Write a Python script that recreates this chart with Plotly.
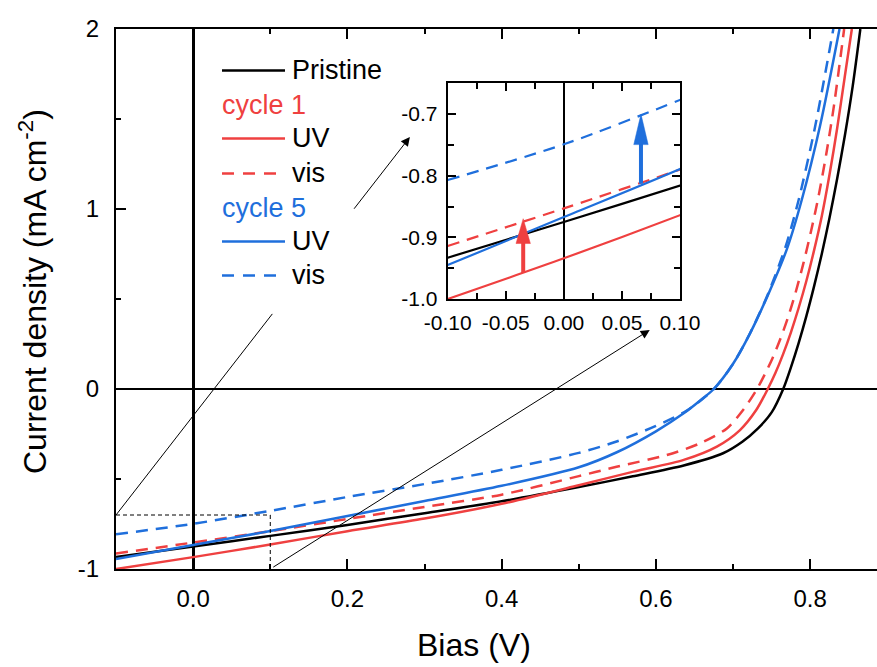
import plotly.graph_objects as go

# ---------------- data ----------------
bias_pristine = [-0.1, 0.0, 0.1, 0.2, 0.3, 0.4, 0.5, 0.57, 0.636, 0.687, 0.712, 0.732, 0.750, 0.765, 0.775, 0.785, 0.795, 0.805, 0.815, 0.825, 0.835, 0.845, 0.855, 0.865]
j_pristine = [-0.933, -0.875, -0.816, -0.755, -0.69, -0.624, -0.545, -0.485, -0.425, -0.357, -0.293, -0.22, -0.13, 0.0, 0.12, 0.255, 0.405, 0.57, 0.75, 0.95, 1.17, 1.41, 1.68, 2.0]

bias_c1_uv = [-0.1, 0.0, 0.1, 0.2, 0.3, 0.4, 0.5, 0.571, 0.636, 0.679, 0.709, 0.730, 0.745, 0.755, 0.765, 0.775, 0.785, 0.795, 0.805, 0.815, 0.825, 0.835, 0.845, 0.854]
j_c1_uv = [-1.0, -0.934, -0.864, -0.79, -0.72, -0.638, -0.535, -0.459, -0.394, -0.32, -0.228, -0.117, 0.0, 0.09, 0.195, 0.315, 0.45, 0.60, 0.77, 0.96, 1.19, 1.45, 1.74, 2.0]

bias_c1_vis = [-0.1, 0.0, 0.1, 0.2, 0.3, 0.4, 0.5, 0.549, 0.614, 0.657, 0.692, 0.713, 0.731, 0.741, 0.751, 0.761, 0.771, 0.781, 0.791, 0.801, 0.811, 0.821, 0.831, 0.844]
j_c1_vis = [-0.914, -0.853, -0.79, -0.722, -0.655, -0.587, -0.484, -0.432, -0.367, -0.302, -0.219, -0.117, 0.0, 0.08, 0.17, 0.275, 0.395, 0.535, 0.695, 0.875, 1.075, 1.31, 1.58, 2.0]

bias_c5_uv = [-0.1, 0.0, 0.1, 0.2, 0.3, 0.4, 0.5, 0.55, 0.6, 0.636, 0.657, 0.675, 0.7, 0.722, 0.745, 0.77, 0.789, 0.813, 0.838]
j_c5_uv = [-0.945, -0.867, -0.789, -0.705, -0.622, -0.538, -0.435, -0.35, -0.235, -0.135, -0.065, 0.0, 0.14, 0.309, 0.52, 0.78, 1.05, 1.467, 2.0]

bias_c5_vis = [-0.1, 0.0, 0.1, 0.2, 0.3, 0.4, 0.5, 0.55, 0.6, 0.64, 0.675, 0.7, 0.722, 0.745, 0.768, 0.785, 0.806, 0.83]
j_c5_vis = [-0.807, -0.749, -0.677, -0.60, -0.528, -0.449, -0.355, -0.29, -0.205, -0.12, 0.0, 0.14, 0.31, 0.525, 0.79, 1.05, 1.45, 2.0]

# tick labels
main_x_ticks = [0.0, 0.2, 0.4, 0.6, 0.8]
main_x_labels = ["0.0", "0.2", "0.4", "0.6", "0.8"]
main_y_ticks = [-1, 0, 1, 2]
main_y_labels = ["-1", "0", "1", "2"]
inset_x_ticks = [-0.1, -0.05, 0.0, 0.05, 0.1]
inset_x_labels = ["-0.10", "-0.05", "0.00", "0.05", "0.10"]
inset_y_ticks = [-1.0, -0.9, -0.8, -0.7]
inset_y_labels = ["-1.0", "-0.9", "-0.8", "-0.7"]

# legend entries
legend_rows = [
    ("line", "Pristine", "black", "solid"),
    ("head", "cycle 1", "red", None),
    ("line", "UV", "red", "solid"),
    ("line", "vis", "red", "dash"),
    ("head", "cycle 5", "blue", None),
    ("line", "UV", "blue", "solid"),
    ("line", "vis", "blue", "dash"),
]

# ---------------- styling ----------------
RED = "#EF4040"
BLUE = "#1F6FDC"
COLORS = {"black": "black", "red": RED, "blue": BLUE}
DASH = "12px,8px"
FONT = "Liberation Sans, Arial, sans-serif"

W, H = 877, 667
ML, MR, MT, MB = 116, 0, 29, 98
PW, PH = W - ML - MR, H - MT - MB


def px2x(px):
    return (px - ML) / PW


def py2y(py):
    return (H - MB - py) / PH


series = [
    (bias_pristine, j_pristine, "black", "solid"),
    (bias_c1_uv, j_c1_uv, RED, "solid"),
    (bias_c1_vis, j_c1_vis, RED, DASH),
    (bias_c5_uv, j_c5_uv, BLUE, "solid"),
    (bias_c5_vis, j_c5_vis, BLUE, DASH),
]

fig = go.Figure()
for xs, ys, col, dash in series:
    fig.add_trace(go.Scatter(x=xs, y=ys, mode="lines", showlegend=False,
                             line=dict(color=col, width=2.5, dash=dash, shape="spline", smoothing=0.8),
                             xaxis="x", yaxis="y", hoverinfo="skip"))
for xs, ys, col, dash in series:
    fig.add_trace(go.Scatter(x=xs, y=ys, mode="lines", showlegend=False,
                             line=dict(color=col, width=2.2, dash=dash, shape="spline", smoothing=0.8),
                             xaxis="x2", yaxis="y2", hoverinfo="skip"))

axis_common = dict(showgrid=False, showline=True, linecolor="black", ticks="inside",
                   tickcolor="black", color="black", automargin=False)

fig.update_layout(
    width=W, height=H, autosize=False,
    margin=dict(l=ML, r=MR, t=MT, b=MB, pad=0, autoexpand=False),
    paper_bgcolor="white", plot_bgcolor="white",
    font=dict(family=FONT, color="black"),
    showlegend=False,
    xaxis=dict(**axis_common, domain=[0, 1], range=[-0.1, 0.8866],
               linewidth=2, mirror="ticks", ticklen=10, tickwidth=2,
               tickvals=main_x_ticks, ticktext=main_x_labels, tickfont=dict(size=24),
               ticklabelstandoff=7,
               minor=dict(tickvals=[0.1, 0.3, 0.5, 0.7], ticklen=5, tickwidth=2, ticks="inside", tickcolor="black"),
               zeroline=True, zerolinecolor="black", zerolinewidth=2.5),
    yaxis=dict(**axis_common, domain=[0, 1], range=[-1, 2],
               linewidth=2, mirror=False, ticklen=10, tickwidth=2,
               tickvals=main_y_ticks, ticktext=main_y_labels, tickfont=dict(size=24),
               ticklabelstandoff=10,
               minor=dict(tickvals=[-0.5, 0.5, 1.5], ticklen=5, tickwidth=2, ticks="inside", tickcolor="black"),
               zeroline=True, zerolinecolor="black", zerolinewidth=2),
    xaxis2=dict(**axis_common, domain=[px2x(447.7), px2x(680)], anchor="y2", range=[-0.1, 0.1],
                linewidth=2, mirror="ticks", ticklen=8, tickwidth=1.5,
                tickvals=inset_x_ticks, ticktext=inset_x_labels, tickfont=dict(size=21),
                ticklabelstandoff=4,
                minor=dict(tickvals=[-0.075, -0.025, 0.025, 0.075], ticklen=6, tickwidth=1.5, ticks="inside", tickcolor="black"),
                zeroline=True, zerolinecolor="black", zerolinewidth=1.5),
    yaxis2=dict(**axis_common, domain=[py2y(299), py2y(83.3)], anchor="x2", range=[-1.0, -0.65],
                linewidth=2, mirror="ticks", ticklen=8, tickwidth=1.5,
                tickvals=inset_y_ticks, ticktext=inset_y_labels, tickfont=dict(size=21),
                ticklabelstandoff=4,
                minor=dict(tickvals=[-0.95, -0.85, -0.75], ticklen=6, tickwidth=1.5, ticks="inside", tickcolor="black"),
                zeroline=False),
)

shapes = []
# dashed zoom-region outline
shapes.append(dict(type="line", xref="x", yref="y", x0=-0.1, y0=-0.7, x1=0.1, y1=-0.7,
                   line=dict(color="black", width=1, dash="4px,3px"), layer="above"))
shapes.append(dict(type="line", xref="x", yref="y", x0=0.1, y0=-0.7, x1=0.1, y1=-1.0,
                   line=dict(color="black", width=1, dash="4px,3px"), layer="above"))

# thin pointer arrow 1 (partly hidden behind legend)
a1_tail = (-0.1, -0.7)
a1_head = (0.281, 1.40)
t_hide0, t_hide1 = 0.532, 0.80


def pt(t):
    return (a1_tail[0] + t * (a1_head[0] - a1_tail[0]), a1_tail[1] + t * (a1_head[1] - a1_tail[1]))


p_h0 = pt(t_hide0)
p_h1 = pt(t_hide1)
shapes.append(dict(type="line", xref="x", yref="y", x0=a1_tail[0], y0=a1_tail[1], x1=p_h0[0], y1=p_h0[1],
                   line=dict(color="black", width=1), layer="above"))
fig.add_annotation(x=a1_head[0], y=a1_head[1], ax=p_h1[0], ay=p_h1[1], xref="x", yref="y",
                   axref="x", ayref="y", showarrow=True, arrowhead=2, arrowsize=1.8, arrowwidth=1,
                   arrowcolor="black", text=" ")
# thin pointer arrow 2
fig.add_annotation(x=0.592, y=0.328, ax=0.1, ay=-1.0, xref="x", yref="y",
                   axref="x", ayref="y", showarrow=True, arrowhead=2, arrowsize=1.8, arrowwidth=1,
                   arrowcolor="black", text=" ")


# thick arrows in inset
def inset_arrow(x, y0, ybase, ytip, col):
    hw = 0.0062
    shapes.append(dict(type="line", xref="x2", yref="y2", x0=x, y0=y0, x1=x, y1=ybase + 0.003,
                       line=dict(color=col, width=4), layer="above"))
    shapes.append(dict(type="path", xref="x2", yref="y2",
                       path=f"M {x - hw},{ybase} L {x + hw},{ybase} L {x},{ytip} Z",
                       fillcolor=col, line=dict(color=col, width=0.5), layer="above"))


inset_arrow(-0.035, -0.9575, -0.910, -0.8697, RED)
inset_arrow(0.0664, -0.813, -0.7495, -0.700, BLUE)

# manual legend
row_y = [70, 105, 138, 173, 208, 241, 275]
for (kind, label, colkey, dash), yy in zip(legend_rows, row_y):
    col = COLORS[colkey]
    if kind == "line":
        shapes.append(dict(type="line", xref="paper", yref="paper",
                           x0=px2x(222), x1=px2x(285), y0=py2y(yy + 0.5), y1=py2y(yy + 0.5),
                           line=dict(color=col, width=2.5, dash=("12px,9px" if dash == "dash" else "solid")),
                           layer="above"))
        fig.add_annotation(x=px2x(290), y=py2y(yy), xref="paper", yref="paper", text=label,
                           showarrow=False, xanchor="left", yanchor="middle",
                           font=dict(size=27, color="black", family=FONT))
    else:
        fig.add_annotation(x=px2x(220), y=py2y(yy), xref="paper", yref="paper", text=label,
                           showarrow=False, xanchor="left", yanchor="middle",
                           font=dict(size=27, color=col, family=FONT))

# axis titles
fig.add_annotation(x=px2x(474), y=py2y(645), xref="paper", yref="paper", text="Bias (V)",
                   showarrow=False, xanchor="center", yanchor="middle",
                   font=dict(size=32, color="black", family=FONT))
fig.add_annotation(x=px2x(33), y=py2y(292), xref="paper", yref="paper",
                   text="Current density (mA cm<sup>-2</sup>)", textangle=-90,
                   showarrow=False, xanchor="center", yanchor="middle",
                   font=dict(size=32, color="black", family=FONT))

fig.update_layout(shapes=shapes)
fig.write_html("out.html", config={"responsive": False, "displayModeBar": False},
               post_script="document.body.style.margin='0';document.body.style.padding='0';"
                           "document.body.style.overflow='hidden';")
